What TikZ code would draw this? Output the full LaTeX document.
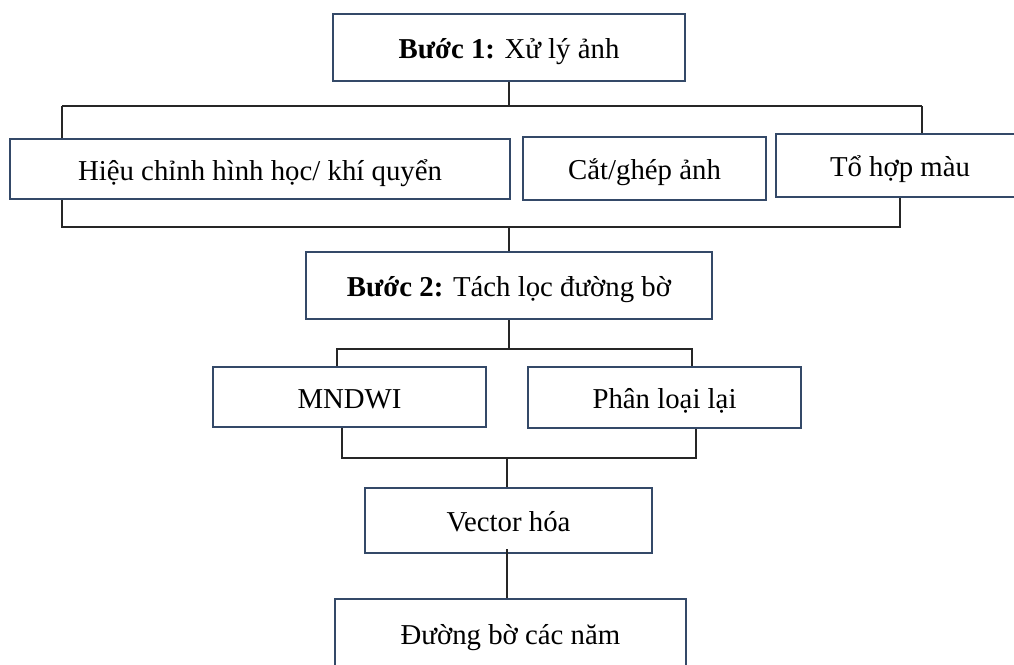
\documentclass[tikz,border=0pt]{standalone}
\usepackage{fontspec}
\setmainfont{Liberation Serif}
\definecolor{boxline}{RGB}{52,73,104}
\begin{document}
\begin{tikzpicture}[x=0.5pt,y=-0.5pt,
  stepbox/.style={draw=boxline,line width=1.4pt,fill=white,rectangle,inner sep=0pt,
    font=\fontsize{14.4pt}{17pt}\selectfont,text=black,text height=11pt,text depth=0pt},
  link/.style={draw=black!85,line width=0.6pt}]
\useasboundingbox (0,0) rectangle (1014,665);
\clip (0,0) rectangle (1014,665);
% boxes
\node[stepbox,minimum width=176pt,minimum height=33.5pt] (b1) at (509,47.5) {\textbf{Bước 1:} Xử lý ảnh};
\node[stepbox,minimum width=250pt,minimum height=30pt] (hieu) at (260,169) {Hiệu chỉnh hình học/ khí quyển};
\node[stepbox,minimum width=121.5pt,minimum height=31.5pt] (cat) at (644.5,168.5) {Cắt/ghép ảnh};
\node[stepbox,minimum width=124pt,minimum height=31.5pt] (tohop) at (900,165.5) {Tổ hợp màu};
\node[stepbox,minimum width=203pt,minimum height=33.5pt] (b2) at (509,285.5) {\textbf{Bước 2:} Tách lọc đường bờ};
\node[stepbox,minimum width=136.5pt,minimum height=30pt] (mndwi) at (349.5,397) {MNDWI};
\node[stepbox,minimum width=136.5pt,minimum height=30.5pt] (phan) at (664.5,397.5) {Phân loại lại};
\node[stepbox,minimum width=143.5pt,minimum height=32.5pt] (vec) at (508.5,520.5) {Vector hóa};
\node[stepbox,minimum width=175.5pt,minimum height=34pt] (duong) at (510.5,633) {Đường bờ các năm};
% bus coordinates
\coordinate (j1) at (509,106);
\coordinate (l1) at (62,106);
\coordinate (r1) at (922,106);
\coordinate (l2) at (62,227);
\coordinate (r2) at (900,227);
\coordinate (j2) at (509,227);
\coordinate (j3) at (509,349);
\coordinate (l3) at (337,349);
\coordinate (r3) at (692,349);
\coordinate (l4) at (342,458);
\coordinate (r4) at (696,458);
\coordinate (j4) at (507,458);
% connectors
\draw[link] (b1.south) -- (j1);
\draw[link] (l1) -- (r1);
\draw[link] (l1) -- (l1 |- hieu.north);
\draw[link] (r1) -- (r1 |- tohop.north);
\draw[link] (l2 |- hieu.south) -- (l2) -- (r2) -- (r2 |- tohop.south);
\draw[link] (j2) -- (j2 |- b2.north);
\draw[link] (j2 |- b2.south) -- (j3);
\draw[link] (l3 |- mndwi.north) -- (l3) -- (r3) -- (r3 |- phan.north);
\draw[link] (l4 |- mndwi.south) -- (l4) -- (r4) -- (r4 |- phan.south);
\draw[link] (j4) -- (j4 |- vec.north);
\draw[link] ([yshift=2.5pt]vec.south -| j4) -- (j4 |- duong.north);
\end{tikzpicture}
\end{document}
